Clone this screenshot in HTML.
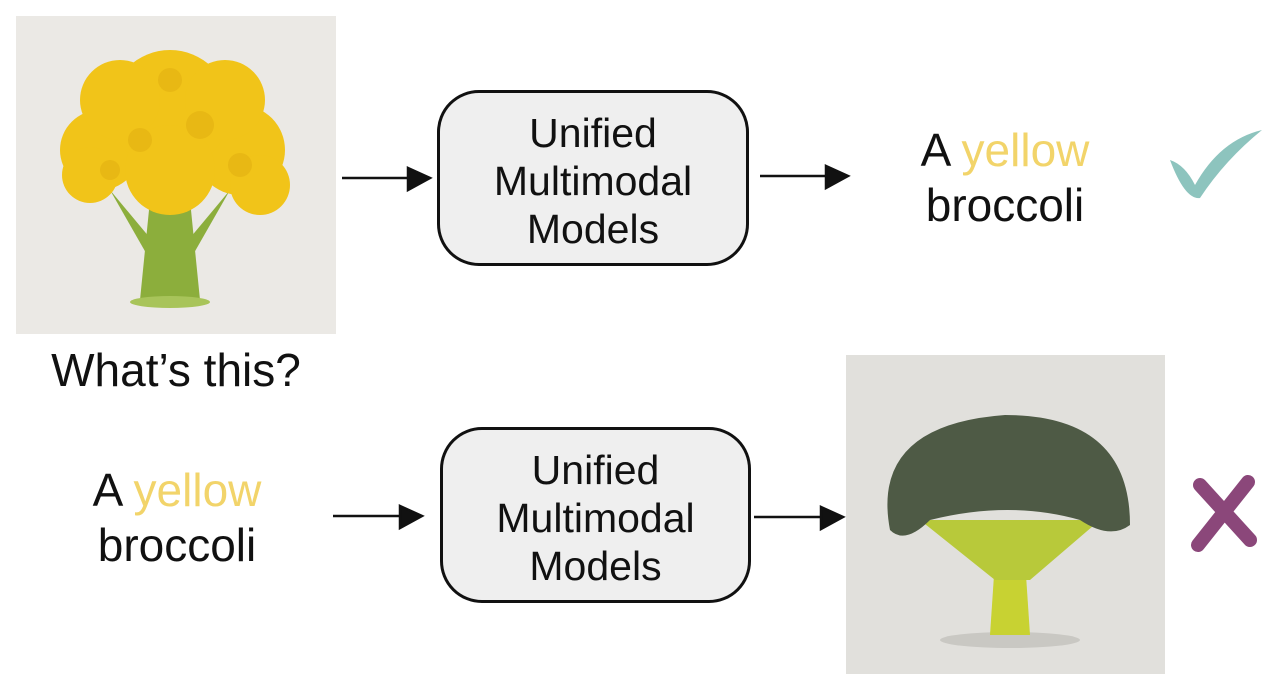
<!DOCTYPE html>
<html><head><meta charset="utf-8"><style>
body{margin:0;width:1282px;height:690px;background:#fff;position:relative;overflow:hidden;font-family:"Liberation Sans",sans-serif}
.t{position:absolute;font-size:46px;color:#111;text-align:center;line-height:55px;white-space:nowrap}
.y{color:#f2d46a}
.box{position:absolute;border:3px solid #111;border-radius:42px;background:#efefef;box-sizing:border-box;display:flex;align-items:center;justify-content:center;text-align:center;font-size:41px;line-height:48px;color:#111;padding-top:6px}
</style></head><body>
<svg width="1282" height="690" style="position:absolute;left:0;top:0">
<rect x="16" y="16" width="320" height="318" fill="#ebe9e5"/>
<g fill="#8cae3c"><path d="M150 200 L140 300 L200 300 L190 200 Z"/><path d="M110 190 L150 260 L160 250 Z"/><path d="M230 190 L190 260 L180 250 Z"/></g>
<ellipse cx="170" cy="302" rx="40" ry="6" fill="#a8c45a"/>
<g fill="#f1c419">
<circle cx="100" cy="150" r="40"/><circle cx="240" cy="150" r="45"/><circle cx="170" cy="110" r="60"/><circle cx="120" cy="100" r="40"/><circle cx="225" cy="100" r="40"/><circle cx="170" cy="170" r="45"/><circle cx="90" cy="175" r="28"/><circle cx="260" cy="185" r="30"/></g>
<g fill="#e0ad10" opacity=".5"><circle cx="140" cy="140" r="12"/><circle cx="200" cy="125" r="14"/><circle cx="110" cy="170" r="10"/><circle cx="240" cy="165" r="12"/><circle cx="170" cy="80" r="12"/></g>
<rect x="846" y="355" width="319" height="319" fill="#e1e0dc"/>
<ellipse cx="1010" cy="640" rx="70" ry="8" fill="#c9c8c3"/>
<path d="M995 560 L990 635 L1030 635 L1025 560 Z" fill="#c8d232"/>
<path d="M920 520 L995 580 L1030 580 L1100 520 Z" fill="#b8c93a"/>
<path d="M890 530 Q870 425 1005 415 Q1130 415 1130 525 Q1110 540 1080 520 Q1010 500 930 520 Q905 545 890 530 Z" fill="#4e5a45"/>
<g stroke="#111" stroke-width="2.5" fill="#111">
<line x1="342" y1="178" x2="412" y2="178"/><path d="M408 168 L430 178 L408 190 Z"/>
<line x1="760" y1="176" x2="830" y2="176"/><path d="M826 166 L848 176 L826 188 Z"/>
<line x1="333" y1="516" x2="404" y2="516"/><path d="M400 506 L422 516 L400 528 Z"/>
<line x1="754" y1="517" x2="825" y2="517"/><path d="M821 507 L843 517 L821 529 Z"/>
</g>
<path d="M1170 160 Q1185 165 1195 185 Q1220 140 1262 130 Q1225 160 1200 198 Q1185 200 1170 160 Z" fill="#8dc4be"/>
<path d="M1200 485 L1250 540 M1248 482 L1198 545" stroke="#8b477a" stroke-width="14" stroke-linecap="round"/>
</svg>
<div class="box" style="left:437px;top:90px;width:312px;height:176px">Unified<br>Multimodal<br>Models</div>
<div class="box" style="left:440px;top:427px;width:311px;height:176px">Unified<br>Multimodal<br>Models</div>
<div class="t" style="left:20px;top:343px;width:312px">What’s this?</div>
<div class="t" style="left:880px;top:123px;width:250px">A <span class="y">yellow</span><br>broccoli</div>
<div class="t" style="left:52px;top:463px;width:250px">A <span class="y">yellow</span><br>broccoli</div>
</body></html>
